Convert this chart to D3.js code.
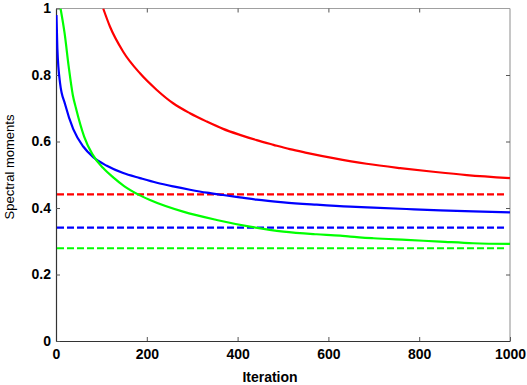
<!DOCTYPE html>
<html><head><meta charset="utf-8">
<script src="https://cdn.jsdelivr.net/npm/d3@7"></script>
<style>
html,body{margin:0;padding:0;background:#fff;}
text{font-family:"Liberation Sans",Arial,sans-serif;}
</style></head>
<body><svg id="chart" width="527" height="385"></svg>
<script>
// Data
const redIter   = [104,119,148,185,222,258,295,332,368,405,442,479,515,552,611,684,758,831,905,1000];
const redVal    = [1.0,0.945,0.870,0.805,0.755,0.715,0.685,0.660,0.638,0.620,0.604,0.590,0.577,0.566,0.550,0.533,0.520,0.509,0.499,0.490];
const blueIter  = [1,3,9,20,38,60,82,112,148,185,222,258,295,332,368,405,442,501,574,648,699,772,846,919,1000];
const blueVal   = [0.98,0.88,0.775,0.712,0.637,0.585,0.553,0.527,0.505,0.490,0.476,0.465,0.455,0.446,0.439,0.432,0.425,0.417,0.410,0.404,0.401,0.397,0.393,0.390,0.387];
const greenIter = [10,19,28,37,44,62,80,104,126,150,185,207,280,354,427,501,574,626,648,699,772,846,919,1000];
const greenVal  = [1.0,0.925,0.825,0.74,0.70,0.615,0.562,0.52,0.492,0.466,0.438,0.424,0.389,0.364,0.344,0.329,0.321,0.317,0.314,0.309,0.304,0.299,0.294,0.292];
const limitNames = ["red","blue","green"];
const limitVals  = [0.441,0.341,0.279];
const xTicks = [0,200,400,600,800,1000];
const yTicks = [0,0.2,0.4,0.6,0.8,1];
const yTickLabels = ["0","0.2","0.4","0.6","0.8","1"];
const colors = {red:"#ff0000", blue:"#0000ff", green:"#00ff00"};

const svg = d3.select("#chart");
const L=56, R=510, T=8.5, B=341;
const x = d3.scaleLinear().domain([0,1000]).range([L,R]);
const y = d3.scaleLinear().domain([0,1]).range([B,T]);

svg.append("defs").append("clipPath").attr("id","clip")
  .append("rect").attr("x",L).attr("y",T).attr("width",R-L).attr("height",B-T);

// frame
svg.append("line").attr("x1",L).attr("x2",R).attr("y1",T).attr("y2",T).attr("stroke","#a0a0a0").attr("stroke-width",1.2);
svg.append("line").attr("x1",R).attr("x2",R).attr("y1",T).attr("y2",B).attr("stroke","#a0a0a0").attr("stroke-width",1.2);

// axes
const xAxis = d3.axisBottom(x).tickValues(xTicks).tickSizeInner(-4).tickSizeOuter(0).tickPadding(8).tickFormat(d3.format("d"));
const yAxis = d3.axisLeft(y).tickValues(yTicks).tickSizeInner(-4).tickSizeOuter(0).tickPadding(5).tickFormat((d,i)=>yTickLabels[i]);
const xTop = d3.axisTop(x).tickValues(xTicks.slice(1,-1)).tickSizeInner(-4).tickSizeOuter(0).tickFormat("");
const yRight = d3.axisRight(y).tickValues(yTicks.slice(1,-1)).tickSizeInner(-4).tickSizeOuter(0).tickFormat("");

function style(g, lineCol){
  g.select(".domain").attr("stroke",lineCol).attr("stroke-width",1.2);
  g.selectAll(".tick line").attr("stroke","#555");
  g.selectAll(".tick text").attr("fill","#000").attr("font-size","14px").attr("font-weight","bold")
   .attr("font-family","'Liberation Sans',Arial,sans-serif");
}
svg.append("g").attr("transform",`translate(0,${T})`).call(xTop).call(g=>style(g,"none"));
svg.append("g").attr("transform",`translate(${R},0)`).call(yRight).call(g=>style(g,"none"));
svg.append("g").attr("transform",`translate(0,${B})`).call(xAxis).call(g=>style(g,"#333"));
svg.append("g").attr("transform",`translate(${L},0)`).call(yAxis).call(g=>style(g,"#333"));

// dashed limits
const plot = svg.append("g").attr("clip-path","url(#clip)");
limitNames.forEach((n,i)=>{
  plot.append("line").attr("x1",x(0)+1).attr("x2",x(1000)-3).attr("y1",y(limitVals[i])).attr("y2",y(limitVals[i]))
    .attr("stroke",colors[n]).attr("stroke-width",2.2).attr("stroke-dasharray","7,3");
});

const line = d3.line().x(d=>x(d[0])).y(d=>y(d[1])).curve(d3.curveMonotoneX);
const series = [["red",redIter,redVal],["blue",blueIter,blueVal],["green",greenIter,greenVal]];
series.forEach(([n,it,v])=>{
  const pts = it.map((t,i)=>[t,v[i]]);
  plot.append("path").datum(pts).attr("d",line).attr("fill","none")
    .attr("stroke",colors[n]).attr("stroke-width",2.2);
});

svg.append("text").attr("x",270).attr("y",382).attr("text-anchor","middle")
  .attr("font-size","14px").attr("font-weight","bold").text("Iteration");
svg.append("text").attr("transform","translate(14,167) rotate(-90)").attr("text-anchor","middle")
  .attr("font-size","13px").text("Spectral moments");
</script></body></html>
